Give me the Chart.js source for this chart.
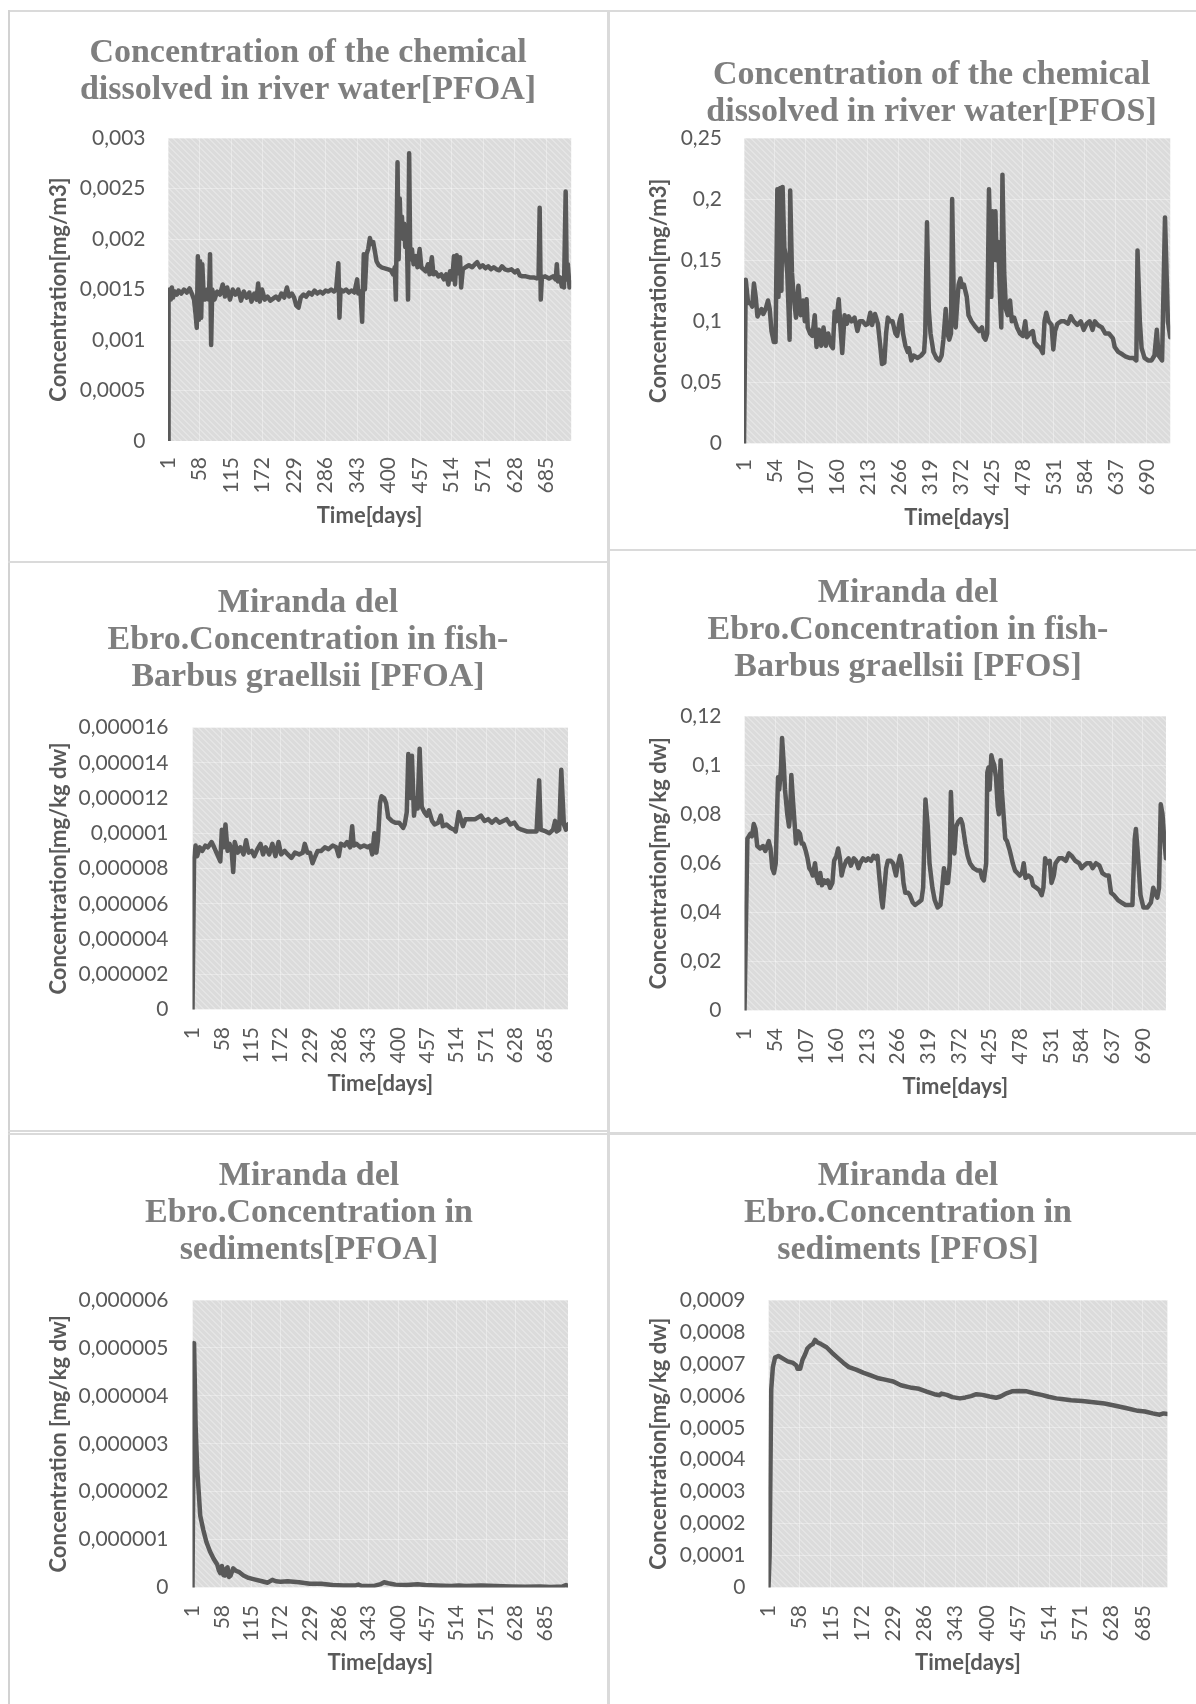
<!DOCTYPE html>
<html>
<head>
<meta charset="utf-8">
<title>PFOA / PFOS – Miranda del Ebro</title>
<script src="https://cdn.jsdelivr.net/npm/chart.js@4.4.1/dist/chart.umd.min.js"></script>
<style>
  html, body { margin: 0; padding: 0; background: #fff; }
  body { position: relative; width: 1196px; height: 1704px; overflow: hidden; }
  .rule { position: absolute; background: #dadada; }
  canvas { position: absolute; }
</style>
</head>
<body>
<!-- table rules around the six panels -->
<div class="rule" style="left:8px;top:10px;width:1188px;height:2px"></div>
<div class="rule" style="left:8px;top:10px;width:2px;height:1694px;background:#d2d2d2"></div>
<div class="rule" style="left:607px;top:10px;width:3px;height:1694px"></div>
<div class="rule" style="left:8px;top:561px;width:599px;height:2px"></div>
<div class="rule" style="left:610px;top:549px;width:586px;height:2px"></div>
<div class="rule" style="left:8px;top:1130px;width:599px;height:2px"></div>
<div class="rule" style="left:8px;top:1133px;width:599px;height:2px"></div>
<div class="rule" style="left:610px;top:1132px;width:586px;height:3px"></div>

<canvas id="riverPfoa"></canvas>
<canvas id="riverPfos"></canvas>
<canvas id="fishPfoa"></canvas>
<canvas id="fishPfos"></canvas>
<canvas id="sedPfoa"></canvas>
<canvas id="sedPfos"></canvas>

<script>
// x axis labels (every 57th / 53rd day)
const daysBy57 = [1, 58, 115, 172, 229, 286, 343, 400, 457, 514, 571, 628, 685];
const daysBy53 = [1, 54, 107, 160, 213, 266, 319, 372, 425, 478, 531, 584, 637, 690];

// y axis labels
const riverPfoaTicks = [0, 0.0005, 0.001, 0.0015, 0.002, 0.0025, 0.003];
const riverPfosTicks = [0, 0.05, 0.1, 0.15, 0.2, 0.25];
const fishPfoaTicks = [0, 0.000002, 0.000004, 0.000006, 0.000008, 0.00001, 0.000012, 0.000014, 0.000016];
const fishPfosTicks = [0, 0.02, 0.04, 0.06, 0.08, 0.1, 0.12];
const sedPfoaTicks = [0, 0.000001, 0.000002, 0.000003, 0.000004, 0.000005, 0.000006];
const sedPfosTicks = [0, 0.0001, 0.0002, 0.0003, 0.0004, 0.0005, 0.0006, 0.0007, 0.0008, 0.0009];

// [day, concentration]
const riverPfoa = [
  [1,0],[2,0.00138],[4,0.0015],[6,0.0014],[8,0.00152],[10,0.00142],[13,0.00148],[17,0.00145],[20,0.00149],[25,0.00146],
  [30,0.0015],[35,0.00147],[40,0.00151],[44,0.00146],[48,0.0014],[51,0.00125],[53,0.00112],[55,0.00183],[57,0.0012],[59,0.00178],
  [61,0.00122],[63,0.00175],[65,0.0015],[68,0.0014],[72,0.0015],[75,0.0014],[77,0.00185],[79,0.00095],[81,0.0015],[85,0.0014],
  [90,0.00148],[95,0.00145],[100,0.00155],[104,0.00143],[108,0.00152],[113,0.0014],[118,0.0015],[123,0.00145],[128,0.0015],[133,0.00139],
  [138,0.00148],[143,0.00142],[148,0.00147],[152,0.00138],[157,0.00146],[161,0.0014],[164,0.00156],[167,0.00138],[171,0.0015],[176,0.0014],
  [181,0.00143],[186,0.00139],[191,0.00141],[196,0.00143],[201,0.0014],[206,0.00146],[211,0.00142],[216,0.00152],[220,0.00143],[225,0.00146],
  [229,0.00142],[233,0.00134],[237,0.00132],[241,0.00142],[246,0.00145],[251,0.00143],[256,0.00147],[261,0.00145],[266,0.00149],[271,0.00146],
  [276,0.00148],[281,0.00146],[286,0.00149],[291,0.00148],[296,0.0015],[301,0.00148],[305,0.0015],[309,0.00176],[311,0.00122],[313,0.0015],
  [318,0.00148],[323,0.0015],[328,0.00147],[333,0.00149],[338,0.00147],[343,0.0016],[345,0.00146],[349,0.00148],[352,0.00118],[355,0.00185],
  [357,0.0015],[360,0.00185],[363,0.0019],[366,0.00201],[369,0.00195],[372,0.00197],[375,0.00188],[378,0.00178],[382,0.00174],[387,0.00172],
  [393,0.00171],[399,0.0017],[404,0.00169],[408,0.00165],[411,0.00172],[413,0.0014],[416,0.00276],[418,0.0018],[420,0.0024],[422,0.00205],
  [424,0.00222],[426,0.002],[428,0.00215],[430,0.00192],[433,0.002],[435,0.0014],[437,0.00285],[439,0.0018],[442,0.0019],[445,0.00175],
  [449,0.00183],[452,0.00172],[456,0.0019],[459,0.00172],[463,0.0017],[467,0.00168],[471,0.00175],[474,0.00165],[478,0.00182],[481,0.00165],
  [485,0.00167],[490,0.00163],[495,0.00165],[500,0.0016],[504,0.00165],[508,0.00155],[511,0.00168],[515,0.0016],[518,0.00183],[520,0.00155],
  [523,0.00184],[526,0.00166],[529,0.00182],[531,0.00152],[534,0.0017],[539,0.00172],[545,0.00174],[551,0.00172],[556,0.00175],[560,0.00177],
  [565,0.00172],[570,0.00174],[575,0.00171],[580,0.00173],[585,0.0017],[590,0.00172],[595,0.0017],[600,0.00169],[605,0.00173],[610,0.0017],
  [616,0.00169],[622,0.0017],[628,0.00167],[633,0.00169],[637,0.00164],[642,0.00163],[648,0.00163],[655,0.00162],[662,0.00162],[668,0.00161],
  [671,0.00162],[673,0.00231],[675,0.0014],[677,0.00162],[683,0.00163],[690,0.00161],[697,0.00163],[702,0.0016],[704,0.00175],[706,0.00158],
  [710,0.00162],[713,0.00153],[715,0.0016],[717,0.00152],[720,0.00247],[722,0.0016],[724,0.00175],[727,0.00152],[730,0.00157]
];

const riverPfos = [
  [1,0],[4,0.134],[8,0.115],[12,0.115],[15,0.112],[18,0.131],[21,0.12],[24,0.104],[28,0.108],[31,0.11],
  [34,0.106],[38,0.11],[42,0.117],[45,0.11],[48,0.092],[52,0.083],[55,0.083],[58,0.208],[60,0.12],[63,0.209],
  [65,0.125],[67,0.21],[70,0.16],[72,0.155],[75,0.14],[79,0.085],[80,0.207],[83,0.14],[86,0.12],[90,0.103],
  [94,0.129],[98,0.105],[102,0.117],[105,0.1],[108,0.118],[110,0.095],[114,0.09],[118,0.088],[122,0.105],[125,0.079],
  [129,0.093],[133,0.08],[137,0.095],[141,0.08],[145,0.09],[150,0.08],[153,0.078],[156,0.108],[159,0.1],[163,0.118],
  [166,0.095],[169,0.074],[173,0.105],[177,0.098],[180,0.104],[185,0.1],[190,0.103],[195,0.092],[199,0.1],[204,0.1],
  [209,0.097],[213,0.098],[217,0.107],[220,0.097],[225,0.106],[230,0.098],[234,0.08],[237,0.065],[241,0.066],[244,0.09],
  [247,0.103],[251,0.1],[255,0.1],[260,0.09],[263,0.088],[267,0.1],[270,0.105],[273,0.09],[277,0.08],[281,0.075],
  [283,0.078],[287,0.068],[291,0.072],[298,0.07],[304,0.072],[309,0.075],[311,0.09],[314,0.181],[317,0.11],[320,0.09],
  [325,0.075],[330,0.07],[335,0.068],[339,0.072],[342,0.085],[346,0.11],[349,0.09],[352,0.085],[355,0.09],[357,0.2],
  [360,0.11],[363,0.095],[365,0.11],[368,0.13],[371,0.135],[374,0.128],[377,0.13],[382,0.12],[385,0.105],[390,0.1],
  [396,0.096],[403,0.092],[408,0.095],[411,0.087],[414,0.085],[417,0.09],[420,0.208],[424,0.12],[426,0.19],[428,0.15],
  [431,0.19],[433,0.15],[436,0.165],[438,0.13],[441,0.095],[443,0.22],[446,0.14],[449,0.11],[452,0.105],[456,0.117],
  [459,0.1],[463,0.103],[468,0.095],[473,0.09],[478,0.088],[482,0.1],[485,0.087],[490,0.09],[495,0.092],[498,0.083],
  [503,0.08],[508,0.078],[512,0.074],[515,0.1],[518,0.107],[522,0.1],[527,0.097],[530,0.077],[533,0.092],[537,0.098],
  [543,0.1],[549,0.1],[555,0.098],[560,0.104],[565,0.1],[571,0.097],[577,0.1],[582,0.093],[587,0.098],[592,0.1],
  [597,0.093],[601,0.1],[606,0.097],[613,0.095],[619,0.09],[625,0.09],[632,0.086],[635,0.079],[641,0.075],[648,0.073],
  [654,0.071],[660,0.07],[667,0.07],[672,0.068],[674,0.158],[678,0.1],[681,0.078],[686,0.07],[692,0.068],[698,0.068],
  [703,0.072],[707,0.093],[710,0.072],[716,0.068],[721,0.185],[726,0.1],[730,0.087]
];

const fishPfoa = [
  [1,0],[4,8.5e-6],[7,9.3e-6],[10,8.7e-6],[15,9.2e-6],[20,9.0e-6],[26,9.3e-6],[31,9.2e-6],[38,9.5e-6],[43,9.2e-6],
  [49,8.8e-6],[55,8.4e-6],[58,1.02e-5],[62,9.2e-6],[65,1.05e-5],[69,9.0e-6],[73,9.4e-6],[77,9.0e-6],[80,7.8e-6],[83,9.5e-6],
  [89,8.9e-6],[94,9.2e-6],[100,8.8e-6],[105,9.6e-6],[110,8.9e-6],[116,9.0e-6],[121,8.7e-6],[127,9.1e-6],[133,9.4e-6],[138,8.8e-6],
  [143,9.2e-6],[150,8.8e-6],[156,9.4e-6],[162,8.7e-6],[168,9.5e-6],[173,8.8e-6],[180,9.0e-6],[186,8.8e-6],[193,8.6e-6],[200,8.9e-6],
  [208,8.8e-6],[215,8.9e-6],[219,9.4e-6],[224,8.9e-6],[229,8.9e-6],[234,8.3e-6],[238,8.6e-6],[244,9.0e-6],[251,9.0e-6],[258,9.2e-6],
  [265,9.1e-6],[273,9.3e-6],[280,9.2e-6],[285,8.7e-6],[289,9.4e-6],[296,9.3e-6],[301,9.5e-6],[307,9.2e-6],[311,1.04e-5],[314,9.3e-6],
  [319,9.4e-6],[327,9.2e-6],[334,9.3e-6],[341,9.2e-6],[346,9.3e-6],[350,8.8e-6],[354,1.0e-5],[358,8.9e-6],[361,9.6e-6],[365,1.17e-5],
  [368,1.21e-5],[373,1.2e-5],[377,1.17e-5],[381,1.09e-5],[388,1.07e-5],[395,1.06e-5],[402,1.06e-5],[410,1.03e-5],[413,1.05e-5],[417,1.12e-5],
  [420,1.45e-5],[424,1.2e-5],[427,1.44e-5],[431,1.1e-5],[435,1.2e-5],[438,1.14e-5],[442,1.48e-5],[446,1.15e-5],[451,1.12e-5],[456,1.1e-5],
  [460,1.13e-5],[466,1.07e-5],[471,1.05e-5],[478,1.06e-5],[483,1.1e-5],[487,1.04e-5],[494,1.05e-5],[502,1.03e-5],[509,1.02e-5],[512,1.01e-5],
  [518,1.12e-5],[522,1.08e-5],[526,1.04e-5],[531,1.08e-5],[539,1.08e-5],[550,1.08e-5],[561,1.1e-5],[568,1.07e-5],[575,1.08e-5],[582,1.06e-5],
  [590,1.08e-5],[597,1.06e-5],[604,1.07e-5],[611,1.08e-5],[618,1.05e-5],[626,1.06e-5],[633,1.03e-5],[640,1.02e-5],[651,1.01e-5],[662,1.01e-5],
  [669,1.01e-5],[674,1.3e-5],[677,1.02e-5],[687,1.01e-5],[694,1.0e-5],[701,1.02e-5],[705,1.07e-5],[708,1.01e-5],[713,1.02e-5],[717,1.36e-5],
  [722,1.05e-5],[726,1.02e-5],[730,1.05e-5]
];

const fishPfos = [
  [1,0],[6,0.07],[11,0.072],[14,0.071],[17,0.076],[20,0.074],[23,0.067],[28,0.066],[33,0.067],[37,0.065],
  [43,0.069],[46,0.066],[49,0.058],[52,0.056],[55,0.06],[59,0.095],[61,0.09],[64,0.098],[66,0.111],[69,0.1],
  [71,0.09],[75,0.08],[78,0.075],[80,0.08],[82,0.096],[85,0.085],[88,0.075],[90,0.068],[94,0.073],[97,0.072],
  [100,0.068],[103,0.068],[107,0.065],[110,0.062],[113,0.058],[116,0.057],[119,0.055],[123,0.06],[126,0.054],[129,0.052],
  [132,0.056],[135,0.051],[139,0.053],[142,0.052],[145,0.053],[149,0.05],[153,0.052],[156,0.061],[160,0.063],[163,0.066],
  [166,0.062],[169,0.055],[172,0.058],[177,0.061],[181,0.062],[185,0.059],[190,0.062],[194,0.061],[198,0.058],[201,0.06],
  [206,0.062],[211,0.061],[215,0.062],[220,0.061],[224,0.063],[228,0.062],[231,0.063],[234,0.055],[238,0.045],[240,0.042],
  [243,0.05],[246,0.058],[249,0.061],[254,0.061],[258,0.06],[261,0.057],[263,0.055],[266,0.059],[270,0.063],[273,0.06],
  [276,0.052],[279,0.048],[284,0.048],[287,0.047],[292,0.044],[296,0.043],[302,0.044],[307,0.045],[310,0.05],[314,0.086],
  [318,0.075],[321,0.06],[326,0.05],[330,0.045],[335,0.042],[340,0.043],[343,0.05],[346,0.058],[350,0.052],[353,0.052],
  [356,0.06],[358,0.089],[361,0.07],[364,0.064],[367,0.075],[371,0.077],[375,0.078],[378,0.076],[383,0.068],[387,0.063],
  [391,0.06],[397,0.058],[404,0.057],[409,0.057],[412,0.054],[415,0.053],[419,0.06],[421,0.097],[423,0.099],[425,0.09],
  [428,0.104],[430,0.102],[433,0.1],[436,0.095],[439,0.083],[441,0.08],[444,0.102],[446,0.09],[449,0.08],[452,0.07],
  [455,0.069],[460,0.065],[465,0.06],[469,0.057],[473,0.056],[477,0.055],[481,0.056],[484,0.06],[487,0.054],[492,0.055],
  [497,0.054],[500,0.051],[506,0.05],[511,0.049],[515,0.047],[518,0.05],[521,0.062],[524,0.06],[529,0.061],[532,0.052],
  [536,0.055],[539,0.06],[545,0.062],[551,0.062],[557,0.061],[562,0.064],[567,0.063],[573,0.061],[580,0.06],[584,0.058],
  [588,0.059],[593,0.06],[599,0.06],[603,0.058],[609,0.06],[615,0.059],[620,0.056],[626,0.055],[631,0.055],[635,0.048],
  [640,0.047],[647,0.045],[653,0.044],[660,0.043],[666,0.043],[672,0.043],[676,0.07],[678,0.074],[681,0.065],[686,0.047],
  [691,0.042],[698,0.042],[704,0.044],[708,0.05],[711,0.048],[715,0.046],[718,0.05],[721,0.084],[724,0.08],[727,0.07],
  [730,0.062]
];

const sedPfoa = [
  [1,0],[4,5.1e-6],[7,3.4e-6],[10,2.5e-6],[16,1.5e-6],[22,1.2e-6],[28,9.5e-7],[35,7.5e-7],[42,6e-7],[49,4.8e-7],
  [52,3.6e-7],[55,3e-7],[58,4.5e-7],[61,2.6e-7],[64,2.5e-7],[67,4.0e-7],[69,4.2e-7],[72,2.2e-7],[75,2.5e-7],[80,4.0e-7],
  [85,3.5e-7],[92,3.2e-7],[100,2.5e-7],[110,2.0e-7],[121,1.7e-7],[136,1.3e-7],[147,1.0e-7],[156,1.6e-7],[163,1.3e-7],[172,1.2e-7],
  [186,1.3e-7],[208,1.1e-7],[229,8e-8],[251,8e-8],[273,5e-8],[294,4e-8],[316,4e-8],[323,6e-8],[330,3e-8],[352,3e-8],
  [366,7e-8],[373,1.1e-7],[381,9e-8],[395,6e-8],[417,5e-8],[438,7e-8],[453,5e-8],[474,4e-8],[503,3e-8],[518,4e-8],
  [532,3e-8],[561,4e-8],[590,3e-8],[618,2e-8],[647,1.5e-8],[676,2e-8],[697,1e-8],[719,2e-8],[726,5e-8],[730,3e-8]
];

const sedPfos = [
  [1,0],[3,0.0001],[6,0.00062],[9,0.00069],[13,0.00072],[19,0.000725],[26,0.000718],[36,0.000708],[46,0.000703],[52,0.000695],
  [54,0.000685],[59,0.000685],[63,0.000712],[68,0.00073],[72,0.000748],[77,0.000757],[82,0.000762],[86,0.000775],[90,0.000768],[97,0.000762],
  [107,0.000752],[117,0.000735],[128,0.000718],[138,0.000703],[148,0.00069],[161,0.000682],[175,0.000672],[189,0.000663],[202,0.000655],[216,0.00065],
  [229,0.000645],[243,0.000633],[263,0.000625],[276,0.000622],[290,0.000613],[304,0.000605],[314,0.000602],[317,0.000607],[327,0.000603],[337,0.000596],
  [351,0.000592],[361,0.000595],[371,0.000599],[381,0.000605],[392,0.000603],[405,0.000598],[417,0.000594],[425,0.000598],[436,0.000608],[446,0.000614],
  [459,0.000615],[473,0.000614],[486,0.000608],[500,0.000603],[513,0.000597],[527,0.000592],[540,0.000589],[554,0.000586],[574,0.000584],[595,0.00058],
  [615,0.000576],[635,0.000569],[656,0.000561],[676,0.000553],[689,0.000551],[703,0.000545],[716,0.000541],[723,0.000545],[730,0.000543]
];

// panel geometry in page pixels: plot box, title centre/baseline, axis title and label anchors
const frames = {
  riverPfoa: { cellLeft: 10,  cellTop: 12,   plotL: 168,   plotR: 580,    plotT: 138,   plotB: 441,    titleX: 308,   titleBase: 61,    yTitleX: 59,  yTickRight: 145.5, xTickTop: 457,  xTitleY: 516 },
  riverPfos: { cellLeft: 612, cellTop: 12,   plotL: 744,   plotR: 1180,   plotT: 138,   plotB: 443.5,  titleX: 931.5, titleBase: 83,    yTitleX: 659, yTickRight: 722,   xTickTop: 459,  xTitleY: 518 },
  fishPfoa:  { cellLeft: 10,  cellTop: 564,  plotL: 192.5, plotR: 580,    plotT: 727.5, plotB: 1009.5, titleX: 308,   titleBase: 611,   yTitleX: 59,  yTickRight: 168.5, xTickTop: 1027, xTitleY: 1083.5 },
  fishPfos:  { cellLeft: 612, cellTop: 552,  plotL: 744.5, plotR: 1177.5, plotT: 716,   plotB: 1010.5, titleX: 908,   titleBase: 601,   yTitleX: 659, yTickRight: 721.5, xTickTop: 1028, xTitleY: 1087 },
  sedPfoa:   { cellLeft: 10,  cellTop: 1136, plotL: 192.5, plotR: 580,    plotT: 1300,  plotB: 1587.5, titleX: 309,   titleBase: 1184.5, yTitleX: 59, yTickRight: 168.5, xTickTop: 1605, xTitleY: 1662.5 },
  sedPfos:   { cellLeft: 612, cellTop: 1136, plotL: 768.5, plotR: 1177.5, plotT: 1300,  plotB: 1587.5, titleX: 908,   titleBase: 1184.5, yTitleX: 659, yTickRight: 745.5, xTickTop: 1605, xTitleY: 1662.5 }
};

const INK = '#595959';
const TITLE_INK = '#7f7f7f';
const SANS = 'Lato, "Open Sans", sans-serif';
const TITLE_SIZE = 34, TITLE_LH = 37, TITLE_MID = 8;
const AXIS_SIZE = 22, AXIS_LH = AXIS_SIZE * 1.2;
const TICK_SIZE = 21;

// grey plot fill with light "\" hatching
function hatch() {
  const c = document.createElement('canvas');
  c.width = c.height = 6;
  const g = c.getContext('2d');
  g.fillStyle = '#dbdbdb';
  g.fillRect(0, 0, 6, 6);
  g.fillStyle = '#e4e4e4';
  for (let i = 0; i < 6; i++) {
    g.fillRect(i, i, 1, 1);
    g.fillRect((i + 1) % 6, i, 1, 1);
  }
  return g.createPattern(c, 'repeat');
}
const HATCH = hatch();

const plotFill = {
  id: 'plotFill',
  beforeDraw(chart) {
    const { ctx, chartArea: a } = chart;
    ctx.save();
    ctx.fillStyle = HATCH;
    ctx.fillRect(a.left, a.top, a.right - a.left, a.bottom - a.top);
    ctx.restore();
  }
};

// the chart title is centred on the whole chart object, not on the plot
const titleAt = {
  id: 'titleAt',
  afterLayout(chart, args, opts) {
    const t = chart.titleBlock;
    if (t) {
      t.left = opts.x - 300;
      t.right = opts.x + 300;
    }
  }
};

const decimal = v => String(Number(v.toPrecision(6))).replace('.', ',');

// turn the page geometry into canvas size, layout padding and axis sizes
function fit(f, lines) {
  const titleTop = f.titleBase - TITLE_MID - TITLE_LH / 2;
  const bottom = f.xTitleY + AXIS_LH / 2;
  const width = Math.round(f.plotR + 8 - f.cellLeft);
  const height = Math.round(bottom + 4 - f.cellTop);
  return {
    width, height,
    padding: {
      left: 0,
      right: width - (f.plotR - f.cellLeft),
      top: titleTop - f.cellTop,
      bottom: f.cellTop + height - bottom
    },
    titleX: f.titleX - f.cellLeft,
    titleGap: f.plotT - titleTop - lines * TITLE_LH,
    yWidth: f.plotL - f.cellLeft,
    yTitlePad: f.yTitleX - f.cellLeft - AXIS_LH / 2,
    yTickPad: f.plotL - f.yTickRight,
    xHeight: bottom - f.plotB,
    xTickPad: f.xTickTop - f.plotB
  };
}

function drawPanel(id, titleLines, yTitle, series, yTicks, xTicks) {
  const f = frames[id];
  const g = fit(f, titleLines.length);
  const canvas = document.getElementById(id);
  canvas.width = g.width;
  canvas.height = g.height;
  canvas.style.left = f.cellLeft + 'px';
  canvas.style.top = f.cellTop + 'px';

  return new Chart(canvas, {
    type: 'line',
    data: {
      datasets: [{
        data: series.map(([x, y]) => ({ x, y })),
        borderColor: INK,
        borderWidth: 4.5,
        borderJoinStyle: 'round',
        borderCapStyle: 'round',
        pointRadius: 0,
        tension: 0
      }]
    },
    options: {
      responsive: false,
      animation: false,
      devicePixelRatio: 1,
      events: [],
      layout: { padding: g.padding },
      plugins: {
        legend: { display: false },
        tooltip: { enabled: false },
        titleAt: { x: g.titleX },
        title: {
          display: true,
          text: titleLines,
          color: TITLE_INK,
          font: { family: '"Liberation Serif", serif', size: TITLE_SIZE, weight: 'bold', lineHeight: TITLE_LH + 'px' },
          padding: { top: 0, bottom: g.titleGap }
        }
      },
      scales: {
        x: {
          type: 'linear',
          min: 1,
          max: 730,
          afterBuildTicks: s => { s.ticks = xTicks.map(value => ({ value })); },
          afterFit: s => { s.height = g.xHeight; },
          border: { display: false },
          grid: { color: 'rgba(255,255,255,0.35)', drawTicks: false },
          ticks: {
            autoSkip: false, minRotation: 90, maxRotation: 90,
            padding: g.xTickPad, color: INK,
            font: { family: SANS, size: TICK_SIZE },
            callback: v => String(v)
          },
          title: {
            display: true, text: 'Time[days]', color: INK, padding: 0,
            font: { family: SANS, size: AXIS_SIZE, weight: 'bold' }
          }
        },
        y: {
          min: 0,
          max: yTicks[yTicks.length - 1],
          afterBuildTicks: s => { s.ticks = yTicks.map(value => ({ value })); },
          afterFit: s => { s.width = g.yWidth; },
          border: { display: false },
          grid: { color: 'rgba(255,255,255,0.35)', drawTicks: false },
          ticks: {
            padding: g.yTickPad, color: INK,
            font: { family: SANS, size: TICK_SIZE },
            callback: v => decimal(v)
          },
          title: {
            display: true, text: yTitle, color: INK,
            padding: { top: g.yTitlePad, bottom: 0 },
            font: { family: SANS, size: AXIS_SIZE, weight: 'bold' }
          }
        }
      }
    },
    plugins: [plotFill, titleAt]
  });
}

drawPanel('riverPfoa', ['Concentration of the chemical', 'dissolved in river water[PFOA]'],
  'Concentration[mg/m3]', riverPfoa, riverPfoaTicks, daysBy57);
drawPanel('riverPfos', ['Concentration of the chemical', 'dissolved in river water[PFOS]'],
  'Concentration[mg/m3]', riverPfos, riverPfosTicks, daysBy53);
drawPanel('fishPfoa', ['Miranda del', 'Ebro.Concentration in fish-', 'Barbus graellsii [PFOA]'],
  'Concentration[mg/kg dw]', fishPfoa, fishPfoaTicks, daysBy57);
drawPanel('fishPfos', ['Miranda del', 'Ebro.Concentration in fish-', 'Barbus graellsii [PFOS]'],
  'Concentration[mg/kg dw]', fishPfos, fishPfosTicks, daysBy53);
drawPanel('sedPfoa', ['Miranda del', 'Ebro.Concentration in', 'sediments[PFOA]'],
  'Concentration [mg/kg dw]', sedPfoa, sedPfoaTicks, daysBy57);
drawPanel('sedPfos', ['Miranda del', 'Ebro.Concentration in', 'sediments [PFOS]'],
  'Concentration[mg/kg dw]', sedPfos, sedPfosTicks, daysBy57);
</script>
</body>
</html>
